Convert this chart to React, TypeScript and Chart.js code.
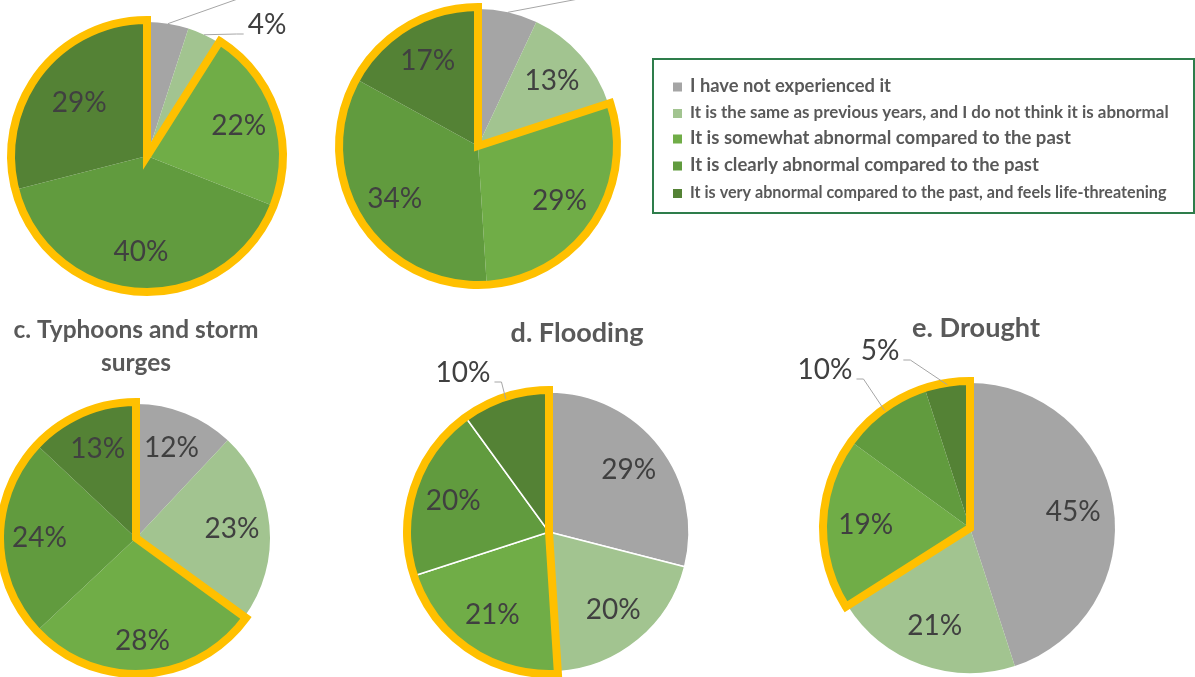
import React, { useEffect, useRef } from "react";
import { Chart, registerables } from "chart.js";

Chart.register(...registerables);

// Answer categories shared by every panel
const categories = [
  "I have not experienced it",
  "It is the same as previous years, and I do not think it is abnormal",
  "It is somewhat abnormal compared to the past",
  "It is clearly abnormal compared to the past",
  "It is very abnormal compared to the past, and feels life-threatening",
];

const sliceColors = ["#A5A5A5", "#A2C490", "#70AD47", "#619B3E", "#548235"];

// Share of respondents per category (%)
const panelAValues = [5, 4, 22, 40, 29];
const panelBValues = [7, 13, 29, 34, 17];
const typhoonValues = [12, 23, 28, 24, 13];
const floodingValues = [29, 20, 21, 20, 10];
const droughtValues = [45, 21, 19, 10, 5];

const typhoonTitle = ["c. Typhoons and storm", "surges"];
const floodingTitle = ["d. Flooding"];
const droughtTitle = ["e. Drought"];

// Categories outlined together (somewhat / clearly / very abnormal)
const abnormalGroup = [2, 4];

const FONT = "Lato, 'Open Sans', sans-serif";
const LABEL_COLOR = "#404040";
const TEXT_GREY = "#595959";
const OUTLINE_COLOR = "#FFC000";
const LEADER_COLOR = "#A6A6A6";

interface OutsideLabel {
  dx: number;
  dy: number;
  side: "left" | "right";
}

interface PanelLayout {
  box: { left: number; top: number; width: number; height: number };
  center: { x: number; y: number };
  radius: number;
  sliceBorder: number;
  labelRadius?: Record<number, number>;
  outside?: Record<number, OutsideLabel>;
  title?: { lines: string[]; dx: number; dy: number; gap: number; fitWidth: number };
  legend?: boolean;
}

const legendLayout = {
  x: 653,
  y: 59,
  w: 541,
  h: 154,
  border: "#2E7D4B",
  swatchX: 673,
  swatch: 9,
  textX: 690,
  rows: [
    { y: 86, w: 201 },
    { y: 112.5, w: 479 },
    { y: 138, w: 381 },
    { y: 165, w: 349 },
    { y: 192.5, w: 477 },
  ],
};

const layoutA: PanelLayout = {
  box: { left: -20, top: -60, width: 340, height: 370 },
  center: { x: 147, y: 156 },
  radius: 134,
  sliceBorder: 0,
  labelRadius: { 4: 0.64 },
  outside: {
    0: { dx: 138, dy: -172, side: "right" },
    1: { dx: 120, dy: -131, side: "right" },
  },
};

const layoutB: PanelLayout = {
  box: { left: 300, top: -60, width: 895, height: 360 },
  center: { x: 478, y: 146 },
  radius: 137,
  sliceBorder: 0,
  outside: {
    0: { dx: 152, dy: -160, side: "right" },
  },
  legend: true,
};

const layoutC: PanelLayout = {
  box: { left: -10, top: 300, width: 300, height: 377 },
  center: { x: 136, y: 538 },
  radius: 134,
  sliceBorder: 0,
  labelRadius: { 2: 0.77 },
  title: { lines: typhoonTitle, dx: 0, dy: -208, gap: 33, fitWidth: 245 },
};

const layoutD: PanelLayout = {
  box: { left: 395, top: 300, width: 310, height: 377 },
  center: { x: 549, y: 532 },
  radius: 140,
  sliceBorder: 1.5,
  outside: {
    4: { dx: -86, dy: -159, side: "left" },
  },
  title: { lines: floodingTitle, dx: 28, dy: -199, gap: 33, fitWidth: 133 },
};

const layoutE: PanelLayout = {
  box: { left: 780, top: 300, width: 380, height: 377 },
  center: { x: 970, y: 528 },
  radius: 145,
  sliceBorder: 0,
  outside: {
    3: { dx: -145, dy: -158, side: "left" },
    4: { dx: -90, dy: -177, side: "left" },
  },
  title: { lines: droughtTitle, dx: 6, dy: -200, gap: 33, fitWidth: 128 },
};

// Draws the yellow group outline, percentage labels, leader lines and title
function makeDecorPlugin(layout: PanelLayout) {
  return {
    id: "panelDecor",
    afterDatasetsDraw(chart: Chart) {
      const ctx = chart.ctx;
      const arcs = chart.getDatasetMeta(0).data as any[];
      const values = chart.data.datasets[0].data as number[];
      const first = arcs[abnormalGroup[0]];
      const last = arcs[abnormalGroup[1]];
      const cx = first.x;
      const cy = first.y;
      const r = first.outerRadius;

      ctx.save();
      ctx.beginPath();
      ctx.moveTo(cx, cy);
      ctx.arc(cx, cy, r + 2, first.startAngle, last.endAngle);
      ctx.closePath();
      ctx.lineWidth = 8;
      ctx.strokeStyle = OUTLINE_COLOR;
      ctx.lineJoin = "miter";
      ctx.miterLimit = 10;
      ctx.stroke();

      ctx.font = `28px ${FONT}`;
      ctx.textAlign = "center";
      ctx.textBaseline = "middle";
      arcs.forEach((arc, i) => {
        const mid = (arc.startAngle + arc.endAngle) / 2;
        const text = `${values[i]}%`;
        const out = layout.outside?.[i];
        if (out) {
          const lx = cx + out.dx;
          const ly = cy + out.dy;
          const half = ctx.measureText(text).width / 2;
          const sign = out.side === "left" ? 1 : -1;
          const edgeX = lx + sign * half;
          ctx.beginPath();
          ctx.moveTo(cx + Math.cos(mid) * r, cy + Math.sin(mid) * r);
          ctx.lineTo(edgeX + sign * 11, ly + 9);
          ctx.lineTo(edgeX + sign * 4, ly + 9);
          ctx.lineWidth = 1;
          ctx.strokeStyle = LEADER_COLOR;
          ctx.stroke();
          ctx.fillStyle = LABEL_COLOR;
          ctx.fillText(text, lx, ly);
        } else {
          const f = layout.labelRadius?.[i] ?? 0.72;
          ctx.fillStyle = LABEL_COLOR;
          ctx.fillText(text, cx + Math.cos(mid) * r * f, cy + Math.sin(mid) * r * f);
        }
      });

      const title = layout.title;
      if (title) {
        ctx.font = `bold 20px ${FONT}`;
        const size = (20 * title.fitWidth) / ctx.measureText(title.lines[0]).width;
        ctx.font = `bold ${size}px ${FONT}`;
        ctx.fillStyle = TEXT_GREY;
        title.lines.forEach((line, k) => {
          ctx.fillText(line, cx + title.dx, cy + title.dy + k * title.gap);
        });
      }
      ctx.restore();
    },
  };
}

// Shared legend box, drawn from the chart's own labels and colours
function makeLegendPlugin(layout: PanelLayout) {
  return {
    id: "boxLegend",
    afterDraw(chart: Chart) {
      const ctx = chart.ctx;
      const ox = layout.box.left;
      const oy = layout.box.top;
      const L = legendLayout;
      const labels = chart.data.labels as string[];
      const colors = chart.data.datasets[0].backgroundColor as string[];
      ctx.save();
      ctx.lineWidth = 2;
      ctx.strokeStyle = L.border;
      ctx.strokeRect(L.x - ox, L.y - oy, L.w, L.h);
      ctx.textAlign = "left";
      ctx.textBaseline = "middle";
      labels.forEach((label, i) => {
        const row = L.rows[i];
        ctx.fillStyle = colors[i];
        ctx.fillRect(L.swatchX - ox, row.y - oy - L.swatch / 2 + 1, L.swatch, L.swatch);
        ctx.font = `bold 16px ${FONT}`;
        const size = (16 * row.w) / ctx.measureText(label).width;
        ctx.font = `bold ${size}px ${FONT}`;
        ctx.fillStyle = TEXT_GREY;
        ctx.fillText(label, L.textX - ox, row.y - oy);
      });
      ctx.restore();
    },
  };
}

function PiePanel({ values, layout }: { values: number[]; layout: PanelLayout }) {
  const ref = useRef<HTMLCanvasElement>(null);

  useEffect(() => {
    const canvas = ref.current;
    if (!canvas) return;
    const { box, center } = layout;
    const lx = center.x - box.left;
    const rx = box.left + box.width - center.x;
    const ty = center.y - box.top;
    const by = box.top + box.height - center.y;
    const padding = {
      left: Math.max(0, lx - rx),
      right: Math.max(0, rx - lx),
      top: Math.max(0, ty - by),
      bottom: Math.max(0, by - ty),
    };
    const plugins: any[] = [makeDecorPlugin(layout)];
    if (layout.legend) plugins.push(makeLegendPlugin(layout));

    const chart = new Chart(canvas, {
      type: "pie",
      data: {
        labels: categories,
        datasets: [
          {
            data: values,
            backgroundColor: sliceColors,
            borderColor: "#FFFFFF",
            borderWidth: layout.sliceBorder,
            hoverOffset: 0,
            radius: layout.radius,
            clip: false,
          } as any,
        ],
      },
      options: {
        responsive: false,
        maintainAspectRatio: false,
        animation: false,
        events: [],
        layout: { padding },
        plugins: {
          legend: { display: false },
          title: { display: false },
          tooltip: { enabled: false },
        },
      } as any,
      plugins,
    });
    return () => chart.destroy();
  }, [values, layout]);

  const { box } = layout;
  return (
    <canvas
      ref={ref}
      width={box.width}
      height={box.height}
      style={{
        position: "absolute",
        left: box.left,
        top: box.top,
        width: box.width,
        height: box.height,
      }}
    />
  );
}

export default function App() {
  return (
    <div
      style={{
        position: "absolute",
        left: 0,
        top: 0,
        width: 1195,
        height: 677,
        overflow: "hidden",
        background: "#FFFFFF",
      }}
    >
      <PiePanel values={panelAValues} layout={layoutA} />
      <PiePanel values={panelBValues} layout={layoutB} />
      <PiePanel values={typhoonValues} layout={layoutC} />
      <PiePanel values={floodingValues} layout={layoutD} />
      <PiePanel values={droughtValues} layout={layoutE} />
    </div>
  );
}
